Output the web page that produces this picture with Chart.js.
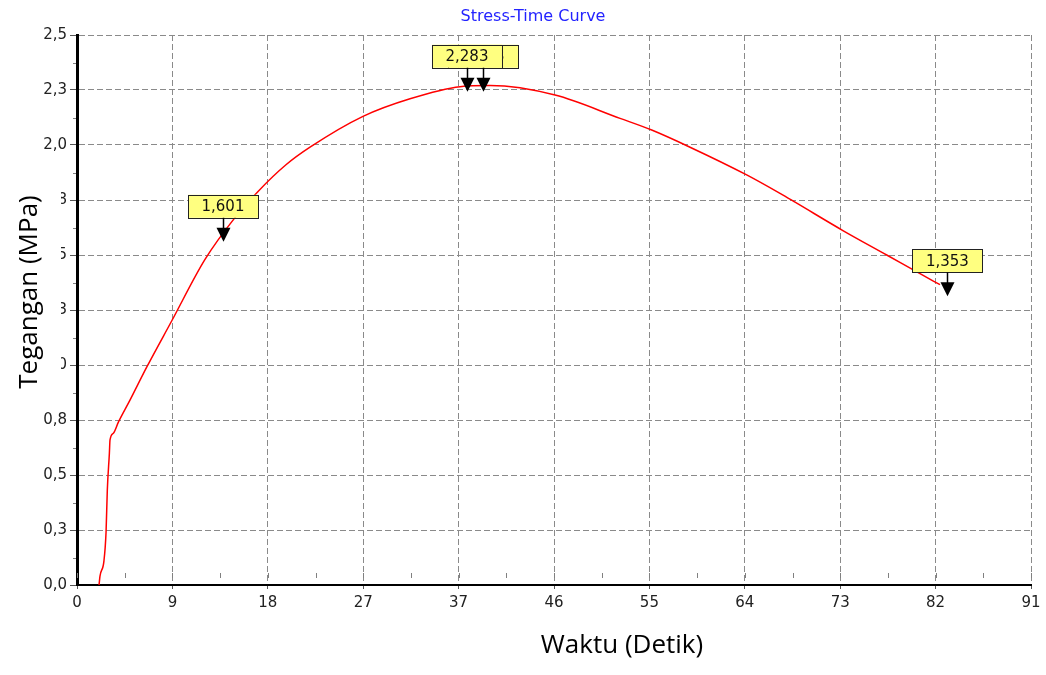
<!DOCTYPE html>
<html>
<head>
<meta charset="utf-8">
<script src="https://cdn.jsdelivr.net/npm/chart.js@4/dist/chart.umd.min.js"></script>
<style>
  html, body { margin: 0; padding: 0; background: #fff; }
  #wrap { width: 1046px; height: 675px; }
</style>
</head>
<body>
<div id="wrap"><canvas id="stressChart" width="1046" height="675"></canvas></div>
<script>
// curve
var timeSec = [2.11, 2.2, 2.58, 2.78, 2.9, 3.1, 3.16, 3.48, 3.96, 5.07, 6.67, 9.06, 12.25, 15.12, 17.35, 20.0,
               22.3, 27.37, 31.87, 36.66, 39.53, 45.75, 51.97, 55.0, 58.67, 64.09, 67.28, 68.72, 73.34, 77.49, 80.68, 82.59];
var stressMPa = [0, 0.04, 0.11, 0.24, 0.43, 0.6, 0.66, 0.69, 0.74, 0.84, 0.99, 1.20, 1.48, 1.67, 1.79, 1.91,
                 1.99, 2.13, 2.21, 2.265, 2.27, 2.227, 2.121, 2.068, 1.99, 1.864, 1.78, 1.74, 1.61, 1.50, 1.415, 1.365];

// markers (back box first)
var markerX = [13.97, 38.86, 37.32, 83.3];
var markerY = [1.601, 2.283, 2.283, 1.353];
var markerText = ['1,601', '2,283', '2,283', '1,353'];

var xMax = 91.3;
var yMax = 2.5;
var xTickLabels = ['0', '9', '18', '27', '37', '46', '55', '64', '73', '82', '91'];
var yTickLabels = ['0,0', '0,3', '0,5', '0,8', '1,0', '1,3', '1,5', '1,8', '2,0', '2,3', '2,5'];

var points = timeSec.map(function (t, i) { return { x: t, y: stressMPa[i] }; });

var extras = {
  id: 'extras',
  beforeDraw: function (chart) {
    var c = chart.ctx;
    c.save();
    c.fillStyle = '#fff';
    c.fillRect(0, 0, chart.width, chart.height);
    c.restore();
  },
  afterDatasetsDraw: function (chart) {
    var c = chart.ctx, xs = chart.scales.x, ys = chart.scales.y, a = chart.chartArea;
    c.save();
    // minor ticks
    c.strokeStyle = '#808080';
    c.lineWidth = 1;
    c.beginPath();
    for (var i = 0; i <= 20; i++) {
      var px = Math.round(xs.getPixelForValue(i * xMax / 20)) + 0.5;
      c.moveTo(px, a.bottom - 12); c.lineTo(px, a.bottom - 7);
    }
    for (var j = 1; j < 20; j += 2) {
      var py = Math.round(ys.getPixelForValue(j * yMax / 20)) + 0.5;
      c.moveTo(a.left - 4, py); c.lineTo(a.left - 1, py);
    }
    c.stroke();

    // markers
    c.font = '15px "DejaVu Sans", Verdana, sans-serif';
    c.textAlign = 'center';
    c.textBaseline = 'middle';
    markerX.forEach(function (mx, k) {
      var px = xs.getPixelForValue(mx), py = ys.getPixelForValue(markerY[k]);
      var bw = 70, bh = 23, bb = py - 15;
      c.fillStyle = '#ffff80';
      c.fillRect(px - bw / 2, bb - bh, bw, bh);
      c.strokeStyle = '#222';
      c.lineWidth = 1;
      c.strokeRect(Math.round(px - bw / 2) + 0.5, Math.round(bb - bh) + 0.5, bw, bh);
      c.fillStyle = '#111';
      c.fillText(markerText[k], px, bb - bh / 2 + 1);
    });
    markerX.forEach(function (mx, k) {
      var px = Math.round(xs.getPixelForValue(mx)) + 0.5, py = ys.getPixelForValue(markerY[k]);
      c.strokeStyle = '#000';
      c.lineWidth = 1.5;
      c.beginPath();
      c.moveTo(px, py - 15); c.lineTo(px, py - 4);
      c.stroke();
      c.fillStyle = '#000';
      c.beginPath();
      c.moveTo(px - 7, py - 5); c.lineTo(px + 7, py - 5); c.lineTo(px, py + 9);
      c.closePath();
      c.fill();
    });
    c.restore();
  },
  afterDraw: function (chart) {
    var c = chart.ctx;
    c.save();
    // title
    c.fillStyle = '#2323ff';
    c.font = '16px "DejaVu Sans", Verdana, sans-serif';
    c.textAlign = 'center';
    c.textBaseline = 'middle';
    c.fillText('Stress-Time Curve', 533, 17);

    // y title sits on a white box that hides part of the tick labels
    c.fillStyle = '#fff';
    c.fillRect(0, 186, 61, 212);
    c.fillStyle = '#000';
    c.font = '26px "Open Sans", sans-serif';
    c.textBaseline = 'alphabetic';
    c.save();
    c.translate(37, 292);
    c.rotate(-Math.PI / 2);
    c.fillText('Tegangan (MPa)', 0, 0);
    c.restore();

    c.fillText('Waktu (Detik)', 622, 653);
    c.restore();
  }
};

var ctx = document.getElementById('stressChart').getContext('2d');
var stressChart = new Chart(ctx, {
  type: 'line',
  data: {
    datasets: [{
      label: 'Tegangan',
      data: points,
      borderColor: '#ff0000',
      borderWidth: 1.5,
      pointRadius: 0,
      cubicInterpolationMode: 'monotone',
      fill: false
    }]
  },
  options: {
    responsive: false,
    animation: false,
    layout: { padding: { left: 0, right: 15, top: 35, bottom: 0 } },
    plugins: {
      legend: { display: false },
      tooltip: { enabled: false },
      title: { display: false }
    },
    scales: {
      x: {
        type: 'linear',
        min: 0,
        max: xMax,
        afterBuildTicks: function (s) {
          s.ticks = xTickLabels.map(function (_, i) { return { value: i * xMax / 10 }; });
        },
        afterFit: function (s) { s.height = 90; },
        grid: { color: '#8a8a8a', lineWidth: 1, tickLength: 4, tickColor: '#555' },
        border: { display: true, color: '#000', width: 2, dash: [6, 3] },
        ticks: {
          autoSkip: false,
          maxRotation: 0,
          padding: 5,
          color: '#222',
          font: { family: '"DejaVu Sans", Verdana, sans-serif', size: 15 },
          callback: function (v, i) { return xTickLabels[i]; }
        }
      },
      y: {
        type: 'linear',
        min: 0,
        max: yMax,
        afterBuildTicks: function (s) {
          s.ticks = yTickLabels.map(function (_, i) { return { value: i * yMax / 10 }; });
        },
        afterFit: function (s) { s.width = 77; },
        grid: { color: '#8a8a8a', lineWidth: 1, tickLength: 7, tickColor: '#555' },
        border: { display: true, color: '#000', width: 3, dash: [6, 3] },
        ticks: {
          autoSkip: false,
          padding: 3,
          color: '#222',
          font: { family: '"DejaVu Sans", Verdana, sans-serif', size: 15 },
          callback: function (v, i) { return yTickLabels[i]; }
        }
      }
    }
  },
  plugins: [extras]
});
</script>
</body>
</html>
